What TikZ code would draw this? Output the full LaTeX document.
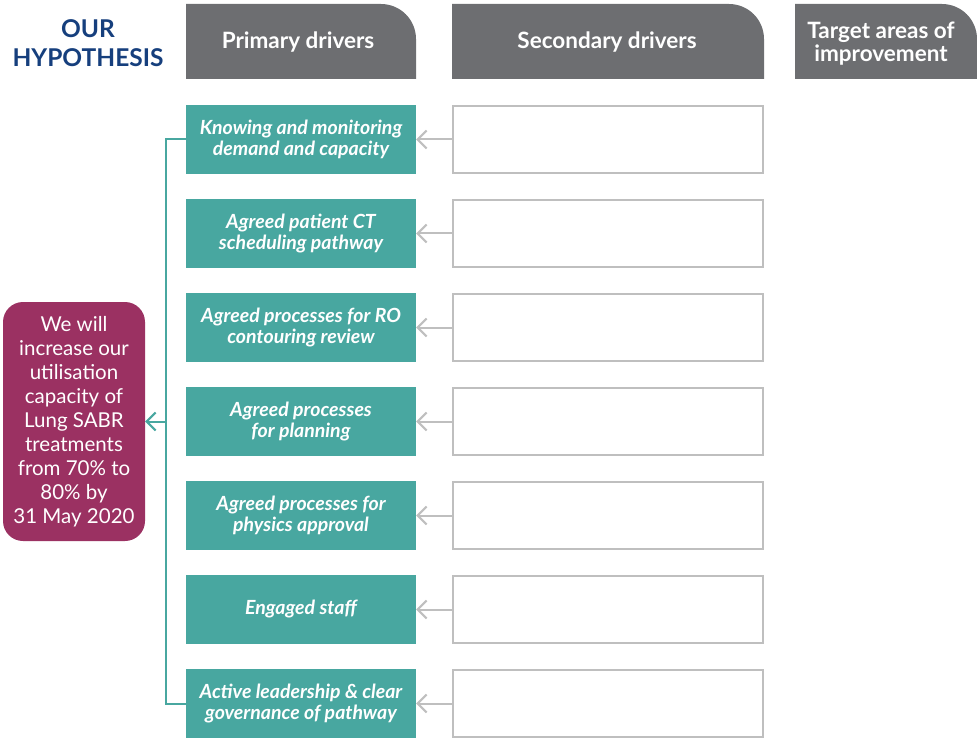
\documentclass[tikz,border=0pt]{standalone}
\usepackage{fontspec}
\setmainfont{Lato}
\usetikzlibrary{arrows.meta}
\definecolor{hdrgray}{HTML}{6D6E71}
\definecolor{teal1}{HTML}{48A7A0}
\definecolor{aimc}{HTML}{9B3162}
\definecolor{hypblue}{HTML}{163F7D}
\definecolor{boxgray}{HTML}{BFBFBF}
\begin{document}
\begin{tikzpicture}[x=1pt,y=-1pt,
  hdrtext/.style={text=white,font=\fontsize{22.5}{23}\selectfont\bfseries,align=center},
  prim/.style={fill=teal1,minimum width=230pt,minimum height=69pt,inner sep=0pt,text=white,align=center,font=\fontsize{19.5}{21}\selectfont\bfseries\itshape},
  sec/.style={draw=boxgray,line width=2pt,minimum width=310pt,minimum height=67pt,inner sep=0pt},
  garrow/.style={draw=boxgray,line width=2pt,-{Straight Barb[length=9pt,width=18pt,line width=2pt]}},
  tline/.style={draw=teal1,line width=2pt},
  tarrow/.style={draw=teal1,line width=2pt,-{Straight Barb[length=9pt,width=18pt,line width=2pt]}}]
\useasboundingbox (0,0) rectangle (977,738);
% headers
\fill[hdrgray] (186,79) -- (186,4) [rounded corners=35pt] -- (416,4) [sharp corners] -- (416,79) -- cycle;
\fill[hdrgray] (452,79) -- (452,4) [rounded corners=35pt] -- (764,4) [sharp corners] -- (764,79) -- cycle;
\fill[hdrgray] (795,79) -- (795,4) [rounded corners=35pt] -- (977,4) [sharp corners] -- (977,79) -- cycle;
\node[hdrtext] (hp) at (298,42) {Primary drivers};
\node[hdrtext] (hs) at (607,42) {Secondary drivers};
\node[hdrtext] (ht) at (881,44) {Target areas of\\improvement};
\node[text=hypblue,align=center,font=\fontsize{24.5}{29}\selectfont\bfseries] (hyp) at (88,43) {OUR\\HYPOTHESIS};
% aim
\node[fill=aimc,rounded corners=20pt,minimum width=142pt,minimum height=239pt,inner sep=0pt,text=white,align=center,font=\fontsize{20.5}{24}\selectfont] (aim) at (74,421.5) {We will\\increase our\\utilisation\\capacity of\\Lung SABR\\treatments\\from 70\% to\\80\% by\\31 May 2020};
% primary
\node[prim] (p1) at (301,139.5) {Knowing and monitoring\\demand and capacity};
\node[prim] (p2) at (301,233.5) {Agreed patient CT\\scheduling pathway};
\node[prim] (p3) at (301,327.5) {Agreed processes for RO\\contouring review};
\node[prim] (p4) at (301,421.5) {Agreed processes\\for planning};
\node[prim] (p5) at (301,515.5) {Agreed processes for\\physics approval};
\node[prim] (p6) at (301,609.5) {Engaged staff};
\node[prim] (p7) at (301,703.5) {Active leadership \& clear\\governance of pathway};
% secondary
\foreach \i/\y in {1/139.5,2/233.5,3/327.5,4/421.5,5/515.5,6/609.5,7/703.5}{
  \node[sec] (s\i) at (608,\y) {};
  \draw[garrow] (s\i.west) -- (p\i.east);
}
% teal connectors
\coordinate (top) at (166,139.5);
\coordinate (bot) at (166,703.5);
\coordinate (mid) at (166,421.5);
\draw[tline] (p1.west) -- (top) -- (bot) -- (p7.west);
\draw[tarrow] (mid) -- (aim.east);
\end{tikzpicture}
\end{document}
